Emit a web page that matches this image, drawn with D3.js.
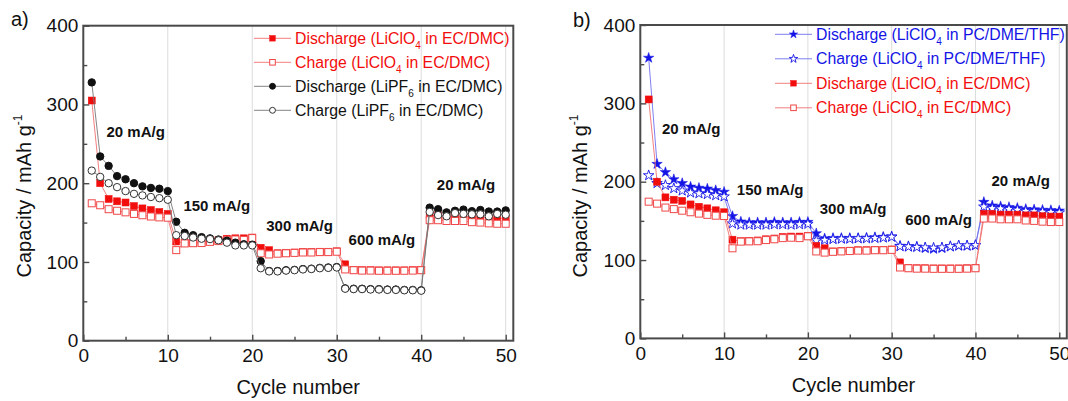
<!DOCTYPE html>
<html>
<head>
<meta charset="utf-8">
<script src="https://cdn.jsdelivr.net/npm/d3@7"></script>
<style>
  html, body { margin: 0; padding: 0; background: #fff; }
  svg { display: block; font-family: "Liberation Sans", Arial, sans-serif; }
</style>
</head>
<body>
<svg id="chart" width="1068" height="401"></svg>
<script>
// ---- data: capacity (mAh/g) per cycle ----
const cycles = d3.range(1, 51);

// LiClO4 in EC/DMC
const dischargeLiClO4EC = [
  305, 200, 180, 177, 175.5, 171, 168, 166, 163.5, 161,
  126, 124, 124.5, 125, 126.5, 127.5, 129.5, 130, 130, 131,
  118, 115, 111, 111.5, 112, 112.5, 112.5, 113, 113, 113.5,
  97, 90, 89.5, 89.5, 89.3, 89.3, 89.3, 89.3, 89.5, 90,
  159, 159, 158, 158, 158, 157, 157, 156, 155.5, 155.5
];
const chargeLiClO4EC = [
  174.5, 172, 167, 165, 163, 161, 159.3, 157.7, 156.6, 156.2,
  115, 123.5, 123.8, 124, 125.5, 126.5, 128, 128.5, 128, 130.3,
  111, 109.5, 110.5, 111, 111.5, 112, 112, 112.5, 112.5, 113,
  90.5, 89.5, 89, 89, 88.8, 88.8, 88.8, 88.8, 89, 89.5,
  153, 153, 152, 152, 152, 150.5, 150, 149, 148.5, 148.5
];

// LiPF6 in EC/DMC
const dischargeLiPF6EC = [
  328, 234, 222, 209, 205, 200, 196, 194, 193, 190,
  151, 137, 134, 131.5, 130, 128.5, 127, 124.5, 122.5, 122,
  101, 88.5, 88.5, 89.5, 90, 91, 91.5, 92.5, 93, 93.5,
  66.5, 66, 66, 65.5, 65.5, 65, 65, 64.5, 64.5, 64,
  169, 167, 163, 165, 166.5, 164.5, 166, 164, 164, 165.5
];
const chargeLiPF6EC = [
  216, 208, 200, 195, 190, 186.5, 184.5, 182.5, 181, 179,
  134, 133, 131, 129.5, 129, 127.5, 124.5, 121, 121, 121,
  92, 88, 88, 89, 89.5, 90.5, 91, 92, 92.5, 93,
  66, 65.5, 65.5, 65, 65, 64.5, 64.5, 64, 64, 63.5,
  163.5, 159.5, 158, 162, 161, 160.5, 160.5, 158, 161, 160
];

// LiClO4 in PC/DME/THF
const dischargeLiClO4PC = [
  358, 222.5, 212, 203, 198, 193.5, 192, 191, 189, 187,
  156, 149, 148, 148, 148, 148.5, 148, 148, 148.5, 148.5,
  134, 127.5, 128, 128, 128, 128, 128.5, 129, 129.5, 130,
  118, 117.5, 117, 115, 114, 115, 117, 118, 118, 118.5,
  174, 169.5, 168.5, 167.5, 166.5, 165, 164.5, 164, 163.5, 163
];
const chargeLiClO4PC = [
  208, 198, 195.5, 191.5, 188.5, 186, 185, 184, 182.5, 181,
  146.5, 145, 145, 145, 145, 145.5, 145.5, 145, 145.5, 146,
  125, 125.5, 126.5, 127, 127, 127.5, 127.5, 128, 128.5, 129.5,
  117.5, 117, 116.5, 116, 115.5, 116, 117.5, 118.5, 118.5, 119,
  168, 166, 165.5, 165, 164, 162.5, 162, 161.5, 161, 160.5
];

// ---- axis ticks and labels ----
const xMajorTicks = [0, 10, 20, 30, 40, 50];
const xMinorTicks = [5, 15, 25, 35, 45];
const yMajorTicks = [0, 100, 200, 300, 400];
const yMinorTicks = [50, 150, 250, 350];
const xTitle = "Cycle number";
const yTitle = "Capacity / mAh g";
const yTitleSup = "-1";
const rateLabels = ["20 mA/g", "150 mA/g", "300 mA/g", "600 mA/g", "20 mA/g"];

// legend text pieces: [before subscript, subscript, after]
const legendTextA = [
  ["Discharge (LiClO", "4", " in EC/DMC)"],
  ["Charge (LiClO", "4", " in EC/DMC)"],
  ["Discharge (LiPF", "6", " in EC/DMC)"],
  ["Charge (LiPF", "6", " in EC/DMC)"]
];
const legendTextB = [
  ["Discharge (LiClO", "4", " in PC/DME/THF)"],
  ["Charge (LiClO", "4", " in PC/DME/THF)"],
  ["Discharge (LiClO", "4", " in EC/DMC)"],
  ["Charge (LiClO", "4", " in EC/DMC)"]
];

// ---- styling ----
const RED = "#f20d0d", RED_OPEN = "#f04848", RED_LINE = "#f07070";
const BLACK = "#111", BLACK_LINE = "#777";
const BLUE = "#1414e6", BLUE_LINE = "#7070f0";
const AXIS = "#4a4a4a";

const svg = d3.select("#chart");

function drawPanel(opt) {
  const x = d3.scaleLinear().domain([0, 50.9]).range(opt.xRange);
  const y = d3.scaleLinear().domain([0, 400]).range(opt.yRange);
  const g = svg.append("g");
  const [x0, x1] = opt.xRange, [y0, y1] = opt.yRange;

  // vertical grid lines
  g.append("g").selectAll("line").data(xMajorTicks.filter(d => d > 0)).join("line")
    .attr("x1", d => x(d)).attr("x2", d => x(d))
    .attr("y1", y0).attr("y2", y1)
    .attr("stroke", "#dcdcdc").attr("stroke-width", 1);

  // axes (ticks pointing inward)
  const axisStyle = sel => {
    sel.select(".domain").remove();
    sel.selectAll("line").attr("stroke", AXIS).attr("stroke-width", 1.4);
    sel.selectAll("text").attr("fill", "#111").style("font-size", "19px")
      .style("font-family", "'Liberation Sans', Arial, sans-serif");
  };
  g.append("g").attr("transform", `translate(0,${y0})`)
    .call(d3.axisBottom(x).tickValues(xMajorTicks).tickSize(-6).tickPadding(8).tickFormat(d3.format("d")))
    .call(axisStyle);
  g.append("g").attr("transform", `translate(0,${y0})`)
    .call(d3.axisBottom(x).tickValues(xMinorTicks).tickSize(-4).tickFormat(""))
    .call(axisStyle);
  g.append("g").attr("transform", `translate(${x0},0)`)
    .call(d3.axisLeft(y).tickValues(yMajorTicks).tickSize(-6).tickPadding(5).tickFormat(d3.format("d")))
    .call(axisStyle);
  g.append("g").attr("transform", `translate(${x0},0)`)
    .call(d3.axisLeft(y).tickValues(yMinorTicks).tickSize(-4).tickFormat(""))
    .call(axisStyle);

  // frame
  g.append("rect").attr("x", x0).attr("y", y1).attr("width", x1 - x0).attr("height", y0 - y1)
    .attr("fill", "none").attr("stroke", AXIS).attr("stroke-width", 2);

  // series
  opt.series.forEach(s => {
    const pts = cycles.map((c, i) => [c, s.values[i]]);
    g.append("path").datum(pts)
      .attr("d", d3.line().x(d => x(d[0])).y(d => y(d[1])))
      .attr("fill", "none").attr("stroke", s.line).attr("stroke-width", 0.9);
    drawMarkers(g, pts.map(d => [x(d[0]), y(d[1])]), s);
  });

  // rate annotations
  g.append("g").selectAll("text").data(opt.rates).join("text")
    .attr("x", d => x(d.cx)).attr("y", d => y(d.cy)).attr("dy", "0.35em")
    .attr("text-anchor", "middle").attr("font-weight", "bold").attr("font-size", 15)
    .attr("fill", "#111").text((d, i) => rateLabels[i]);

  // legend
  const lg = g.append("g");
  opt.series.forEach((s, i) => {
    const ly = opt.legend.y0 + i * opt.legend.dy;
    lg.append("line").attr("x1", opt.legend.x0).attr("x2", opt.legend.x0 + 37)
      .attr("y1", ly).attr("y2", ly).attr("stroke", s.line).attr("stroke-width", 0.9);
    drawMarkers(lg, [[opt.legend.x0 + 18.5, ly]], Object.assign({}, s, { legend: true }));
    const t = lg.append("text").attr("x", opt.legend.x0 + 41).attr("y", ly).attr("dy", "0.35em")
      .attr("font-size", 15.8).attr("fill", s.text);
    const parts = opt.legend.text[i];
    t.append("tspan").text(parts[0]);
    t.append("tspan").attr("font-size", 10).attr("dy", 5).text(parts[1]);
    t.append("tspan").attr("dy", -5).text(parts[2]);
  });

  // axis titles
  g.append("text").attr("x", (x0 + x1) / 2).attr("y", opt.xTitleY).attr("dy", "0.35em")
    .attr("text-anchor", "middle").attr("font-size", 20).attr("fill", "#111").text(xTitle);
  const yt = g.append("text")
    .attr("transform", `translate(${opt.yTitleX},${opt.yTitleCY}) rotate(-90)`)
    .attr("dy", "0.35em").attr("text-anchor", "middle").attr("font-size", 20).attr("fill", "#111");
  yt.append("tspan").text(yTitle);
  yt.append("tspan").attr("font-size", 12).attr("dy", -9).text(yTitleSup);

  // panel letter
  g.append("text").attr("x", opt.letter[0]).attr("y", opt.letter[1]).attr("dy", "0.35em")
    .attr("font-size", 20).attr("fill", "#111").text(opt.letter[2]);
}

function drawMarkers(g, pts, s) {
  const sc = s.legend ? 0.8 : 1;
  if (s.shape === "square") {
    const a = 7 * sc;
    g.append("g").selectAll("rect").data(pts).join("rect")
      .attr("x", d => d[0] - a / 2).attr("y", d => d[1] - a / 2)
      .attr("width", a).attr("height", a)
      .attr("fill", s.open ? "#fff" : s.color)
      .attr("stroke", s.open ? RED_OPEN : s.color).attr("stroke-width", s.open ? 1 : 0.5);
  } else if (s.shape === "circle") {
    g.append("g").selectAll("circle").data(pts).join("circle")
      .attr("cx", d => d[0]).attr("cy", d => d[1]).attr("r", 3.7 * sc)
      .attr("fill", s.open ? "#fff" : s.color)
      .attr("stroke", s.open ? "#333" : s.color).attr("stroke-width", 1);
  } else {
    const sym = d3.symbol(d3.symbolStar, 34 * sc * sc);
    g.append("g").selectAll("path").data(pts).join("path")
      .attr("transform", d => `translate(${d[0]},${d[1]})`)
      .attr("d", sym)
      .attr("fill", s.open ? "#fff" : s.color)
      .attr("stroke", s.color).attr("stroke-width", s.open ? 0.9 : 0.5);
  }
}

drawPanel({
  xRange: [83.3, 513.3], yRange: [340.7, 25.7],
  series: [
    { values: dischargeLiClO4EC, shape: "square", open: false, color: RED, line: RED_LINE, text: RED },
    { values: chargeLiClO4EC, shape: "square", open: true, color: RED, line: RED_LINE, text: RED },
    { values: dischargeLiPF6EC, shape: "circle", open: false, color: BLACK, line: BLACK_LINE, text: BLACK },
    { values: chargeLiPF6EC, shape: "circle", open: true, color: BLACK, line: BLACK_LINE, text: BLACK }
  ],
  rates: [
    { cx: 6.2, cy: 265 }, { cx: 15.8, cy: 171 }, { cx: 25.6, cy: 145.5 },
    { cx: 35.35, cy: 128 }, { cx: 45.3, cy: 198 }
  ],
  legend: { x0: 254, y0: 38.3, dy: 24, text: legendTextA },
  xTitleY: 387, yTitleX: 24, yTitleCY: 196,
  letter: [11, 19, "a)"]
});

drawPanel({
  xRange: [640.3, 1066.8], yRange: [338.4, 25],
  series: [
    { values: dischargeLiClO4PC, shape: "star", open: false, color: BLUE, line: BLUE_LINE, text: BLUE },
    { values: chargeLiClO4PC, shape: "star", open: true, color: BLUE, line: BLUE_LINE, text: BLUE },
    { values: dischargeLiClO4EC, shape: "square", open: false, color: RED, line: RED_LINE, text: RED },
    { values: chargeLiClO4EC, shape: "square", open: true, color: RED, line: RED_LINE, text: RED }
  ],
  rates: [
    { cx: 6.07, cy: 267 }, { cx: 15.5, cy: 189.5 }, { cx: 25.4, cy: 165 },
    { cx: 35.6, cy: 152 }, { cx: 45.4, cy: 201 }
  ],
  legend: { x0: 775, y0: 34.3, dy: 24.5, text: legendTextB },
  xTitleY: 385, yTitleX: 580, yTitleCY: 196,
  letter: [573, 20, "b)"]
});
</script>
</body>
</html>
